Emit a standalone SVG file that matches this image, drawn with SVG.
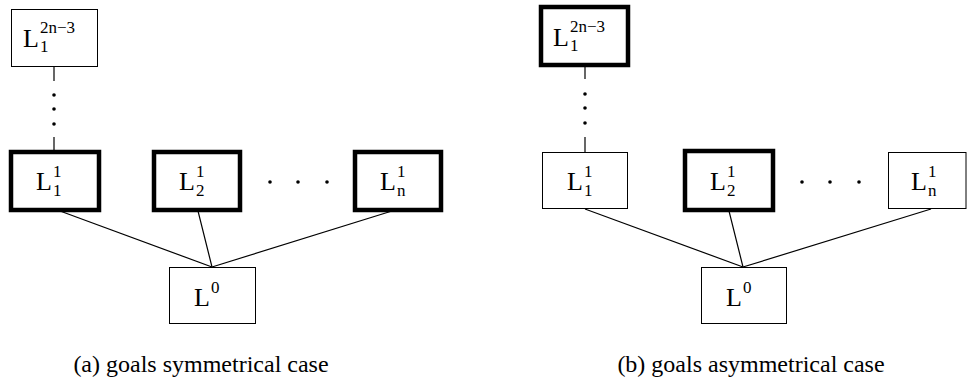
<svg xmlns="http://www.w3.org/2000/svg" width="967" height="392" viewBox="0 0 967 392" font-family="Times New Roman, Liberation Serif, serif">
<defs>
<circle id="dt" r="1.8" fill="#000"/>
</defs>
<g id="connectors" stroke="#000" stroke-width="1.2" fill="none">
<line x1="54" y1="66" x2="54" y2="81"/>
<line x1="54" y1="137" x2="54" y2="152"/>
<line x1="60" y1="211" x2="212" y2="267"/>
<line x1="198" y1="211" x2="212" y2="267"/>
<line x1="392" y1="211" x2="212" y2="267"/>
<line x1="585" y1="66" x2="585" y2="79"/>
<line x1="585" y1="137" x2="585" y2="152"/>
<line x1="585" y1="209" x2="743" y2="267"/>
<line x1="729" y1="211" x2="743" y2="267"/>
<line x1="931" y1="209" x2="743" y2="267"/>
</g>
<g id="dots">
<use href="#dt" x="54" y="95"/><use href="#dt" x="54" y="109"/><use href="#dt" x="54" y="124"/>
<use href="#dt" x="270" y="182"/><use href="#dt" x="298" y="182"/><use href="#dt" x="327" y="182"/>
<use href="#dt" x="585" y="94"/><use href="#dt" x="585" y="108"/><use href="#dt" x="585" y="123"/>
<use href="#dt" x="802" y="182"/><use href="#dt" x="830" y="182"/><use href="#dt" x="859" y="182"/>
</g>
<g id="a-top">
<rect x="11.5" y="9.5" width="86" height="57" fill="#fff" stroke="#000" stroke-width="1"/>
<text x="23" y="47" font-size="26" style="font-family:'Liberation Serif',serif">L</text><text x="40" y="33" font-size="17" style="font-family:'Liberation Serif',serif">2n&#8722;3</text><text x="40" y="52" font-size="17" style="font-family:'Liberation Serif',serif">1</text>
</g>
<g id="a-L1">
<rect x="11" y="152" width="88" height="58" fill="#fff" stroke="#000" stroke-width="4.5"/>
<text x="36" y="190" font-size="26" style="font-family:'Liberation Serif',serif">L</text><text x="53" y="177" font-size="17" style="font-family:'Liberation Serif',serif">1</text><text x="53" y="196" font-size="17" style="font-family:'Liberation Serif',serif">1</text>
</g>
<g id="a-L2">
<rect x="154" y="152" width="86" height="58" fill="#fff" stroke="#000" stroke-width="4.5"/>
<text x="179" y="190" font-size="26" style="font-family:'Liberation Serif',serif">L</text><text x="196" y="177" font-size="17" style="font-family:'Liberation Serif',serif">1</text><text x="196" y="196" font-size="17" style="font-family:'Liberation Serif',serif">2</text>
</g>
<g id="a-Ln">
<rect x="355" y="152" width="86" height="58" fill="#fff" stroke="#000" stroke-width="4.5"/>
<text x="380" y="190" font-size="26" style="font-family:'Liberation Serif',serif">L</text><text x="397" y="177" font-size="17" style="font-family:'Liberation Serif',serif">1</text><text x="397" y="196" font-size="17" style="font-family:'Liberation Serif',serif">n</text>
</g>
<g id="a-L0">
<rect x="169.5" y="267.5" width="86" height="56" fill="#fff" stroke="#000" stroke-width="1"/>
<text x="194" y="306" font-size="26" style="font-family:'Liberation Serif',serif">L</text><text x="211" y="293" font-size="17" style="font-family:'Liberation Serif',serif">0</text>
</g>
<g id="b-top">
<rect x="541" y="7" width="87" height="58" fill="#fff" stroke="#000" stroke-width="4.5"/>
<text x="553" y="46" font-size="26" style="font-family:'Liberation Serif',serif">L</text><text x="570" y="32" font-size="17" style="font-family:'Liberation Serif',serif">2n&#8722;3</text><text x="570" y="51" font-size="17" style="font-family:'Liberation Serif',serif">1</text>
</g>
<g id="b-L1">
<rect x="542.5" y="152.5" width="85" height="56" fill="#fff" stroke="#000" stroke-width="1"/>
<text x="567" y="190" font-size="26" style="font-family:'Liberation Serif',serif">L</text><text x="584" y="177" font-size="17" style="font-family:'Liberation Serif',serif">1</text><text x="584" y="196" font-size="17" style="font-family:'Liberation Serif',serif">1</text>
</g>
<g id="b-L2">
<rect x="685" y="151" width="88" height="59" fill="#fff" stroke="#000" stroke-width="4.5"/>
<text x="710" y="190" font-size="26" style="font-family:'Liberation Serif',serif">L</text><text x="727" y="177" font-size="17" style="font-family:'Liberation Serif',serif">1</text><text x="727" y="196" font-size="17" style="font-family:'Liberation Serif',serif">2</text>
</g>
<g id="b-Ln">
<rect x="888.5" y="152.5" width="77.5" height="56" fill="#fff" stroke="#000" stroke-width="1"/>
<text x="911" y="190" font-size="26" style="font-family:'Liberation Serif',serif">L</text><text x="928" y="177" font-size="17" style="font-family:'Liberation Serif',serif">1</text><text x="928" y="196" font-size="17" style="font-family:'Liberation Serif',serif">n</text>
</g>
<g id="b-L0">
<rect x="701.5" y="267.5" width="85" height="56" fill="#fff" stroke="#000" stroke-width="1"/>
<text x="726" y="306" font-size="26" style="font-family:'Liberation Serif',serif">L</text><text x="743" y="293" font-size="17" style="font-family:'Liberation Serif',serif">0</text>
</g>
<g id="captions">
<text x="201" y="372" font-size="24" text-anchor="middle" style="font-family:'Liberation Serif',serif">(a) goals symmetrical case</text>
<text x="751" y="372" font-size="24" text-anchor="middle" style="font-family:'Liberation Serif',serif">(b) goals asymmetrical case</text>
</g>
</svg>
